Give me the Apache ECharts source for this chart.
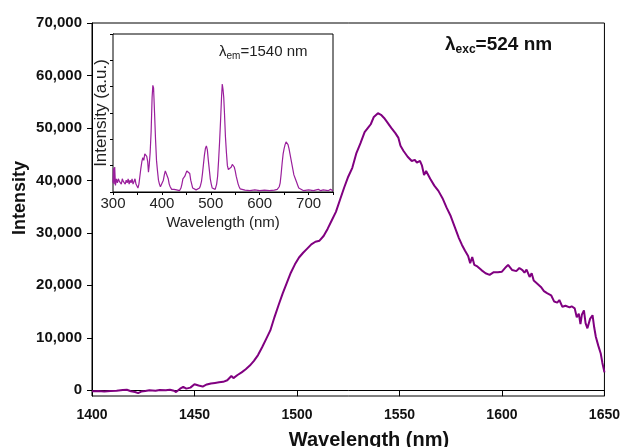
<!DOCTYPE html>
<html>
<head>
<meta charset="utf-8">
<script src="https://cdn.jsdelivr.net/npm/echarts@6.0.0/dist/echarts.min.js"></script>
<style>
  html, body { margin: 0; padding: 0; background: #fff; }
  #chart { width: 623px; height: 447px; }
</style>
</head>
<body>
<div id="chart"></div>
<script>
// emission spectrum, excitation 524 nm
const mainX = [1400,1403,1406,1409,1412,1415,1417,1419,1421,1422.5,1424,1426,1428,1431,1433,1436,1438,1440,1441,1443,1444.5,1446,1448,1450,1452,1454,1456,1458,1460,1462,1464,1466,1468,1469,1471,1473,1475,1477,1479,1481,1483,1485,1487,1489,1491,1493,1495,1497,1499,1501,1503,1505,1507,1509,1511,1513,1515,1517,1519,1521,1523,1525,1527,1529,1531,1533,1535,1536,1537.5,1539.5,1541,1542.5,1544,1546,1548,1549.5,1550.5,1552,1554,1556,1557.5,1558.5,1560,1561,1562,1563,1565,1567,1569,1571,1573,1575,1577,1579,1580.5,1582,1583.5,1584.5,1585.5,1586.5,1588,1590,1592,1594,1596,1598,1600,1602,1603,1605,1607,1608.5,1610,1611,1612,1613.5,1614.5,1615.5,1617,1619,1620.5,1622,1624,1625.5,1627,1628,1629.5,1631,1633,1634,1635.5,1636.5,1637.5,1638.3,1639,1640,1640.8,1641.7,1643,1644.2,1645,1645.8,1647,1648.2,1649,1649.8,1650];
const mainY = [-200,-150,-250,-150,-100,50,100,-200,-350,-550,-250,-150,0,-100,50,0,100,-100,-350,300,650,300,500,1150,900,700,1100,1300,1400,1500,1600,1900,2700,2300,2900,3400,4000,4700,5600,6700,8200,9800,11400,13900,16200,18400,20400,22400,24000,25300,26200,27000,27800,28300,28500,29400,30800,32400,34000,36300,38600,40700,42400,45200,47100,49200,50200,50700,52100,52800,52500,51900,51100,50000,49000,48100,46600,45600,44500,43700,43900,43400,43700,42800,41000,41800,40300,39000,38000,36600,34800,33200,31100,29000,27700,26600,25600,24200,25400,23900,23600,22900,22300,22000,22500,22500,22600,23500,23900,22900,22700,23300,22900,22400,23000,21600,22300,20900,20400,19700,18900,18500,18100,16900,16700,17200,15900,16100,15800,16000,15600,13900,14600,12600,14400,15200,12800,11800,13600,14300,12000,10200,8500,7000,5200,3800,3400];

// inset: excitation spectrum, emission 1540 nm (a.u.)
const insetX = [300,301,302,303.5,305,307,309,311,313,315,317,319,321,323,325,327,329,331,333,335,337,339,341,343,345,347,349,351,353,355,357,359,361,363,365,367,369,371,372.5,374,376,378,380,381.5,383,385,387,389,391,393,395,397,399,401,403,405,407,409,411,413,415,417,420,425,430,433,436,439,441,443,445,447,449,451,453,455,457,459,461,463,466,470,474,477,479,481,483,485,487,489,491,493,495,497,499,501,503,506,509,512,514,516,518,520,522,523.5,525,526.5,528,530,532,534,536,538,540,542,544,546,548,550,552,554,556,558,560,563,570,580,590,600,610,620,630,636,640,642,644,646,648,650,652,654,656,658,660,662,664,666,668,670,672,674,676,678,680,683,690,700,710,720,725,730,740,745,750];
const insetY = [0.35,0.9,0.3,0.95,0.25,0.5,0.35,0.5,0.4,0.45,0.3,0.5,0.4,0.45,0.3,0.45,0.35,0.5,0.3,0.45,0.35,0.5,0.3,0.4,0.5,0.3,0.35,0.15,0.3,0.6,0.9,1.15,1.3,1.2,1.45,1.5,1.35,1.15,0.75,1.0,1.5,2.3,3.6,4.05,3.95,3.0,2.0,1.2,0.8,0.45,0.3,0.2,0.2,0.25,0.45,0.65,0.8,0.85,0.75,0.5,0.3,0.2,0.1,0.1,0.08,0.1,0.05,0.15,0.3,0.5,0.55,0.6,0.7,0.8,0.85,0.85,0.7,0.45,0.3,0.15,0.1,0.08,0.1,0.15,0.25,0.4,0.7,1.05,1.4,1.65,1.75,1.6,1.2,0.85,0.5,0.3,0.15,0.1,0.1,0.3,0.6,1.2,1.9,2.7,3.6,4.1,3.9,3.6,3.0,2.1,1.5,1.0,0.85,0.8,0.8,0.95,1.05,1.05,0.95,0.8,0.6,0.45,0.3,0.2,0.12,0.05,0.07,0.05,0.08,0.05,0.07,0.05,0.07,0.1,0.2,0.35,0.7,1.1,1.45,1.65,1.8,1.9,1.9,1.8,1.65,1.45,1.25,1.05,0.85,0.65,0.55,0.5,0.35,0.25,0.15,0.1,0.05,0.08,0.05,0.1,0.05,0.08,0.05,0.1,0.05];

const mainTicks = [0, 10000, 20000, 30000, 40000, 50000, 60000, 70000];

const FONT = '"Liberation Sans", Arial, sans-serif';

const zip = (xs, ys) => xs.map((x, i) => [x, ys[i]]);

const chart = echarts.init(document.getElementById('chart'), null, { renderer: 'canvas' });

chart.setOption({
  backgroundColor: '#fff',
  animation: false,
  grid: [
    { left: 92, right: 16, top: 23, bottom: 51, show: true, borderColor: '#000', borderWidth: 1, backgroundColor: 'transparent' },
    { left: 113, right: 290, top: 34, bottom: 255, show: true, borderColor: '#000', borderWidth: 1, backgroundColor: '#fff', z: 5 }
  ],
  xAxis: [
    {
      gridIndex: 0, type: 'value', min: 1400, max: 1650, interval: 50,
      axisLine: { lineStyle: { color: '#000', width: 1 } },
      axisTick: { length: 6, lineStyle: { color: '#000' } },
      axisLabel: { color: '#111', fontFamily: FONT, fontSize: 14, fontWeight: 'bold', margin: 12, formatter: v => String(v) },
      splitLine: { show: false }
    },
    {
      gridIndex: 1, type: 'value', min: 300, max: 750, interval: 50,
      axisLine: { lineStyle: { color: '#000', width: 1 } },
      axisTick: { length: 3, lineStyle: { color: '#000' } },
      axisLabel: {
        color: '#222', fontFamily: FONT, fontSize: 15, margin: 4,
        formatter: v => (v % 100 === 0 && v < 750) ? String(v) : ''
      },
      splitLine: { show: false },
      name: 'Wavelength (nm)', nameLocation: 'middle', nameGap: 23,
      nameTextStyle: { color: '#222', fontFamily: FONT, fontSize: 15 }
    }
  ],
  yAxis: [
    {
      gridIndex: 0, type: 'value', min: -1100, max: 70000,
      axisLine: { show: true, lineStyle: { color: '#000', width: 1 } },
      axisTick: { show: true, length: 5, customValues: mainTicks, lineStyle: { color: '#000' } },
      axisLabel: {
        customValues: mainTicks, color: '#111', fontFamily: FONT, fontSize: 15, fontWeight: 'bold', margin: 10,
        formatter: v => Number(v).toLocaleString('en-US')
      },
      splitLine: { show: false }
    },
    {
      gridIndex: 1, type: 'value', min: 0, max: 6, interval: 1,
      axisLine: { show: true, lineStyle: { color: '#000', width: 1 } },
      axisTick: { show: true, length: 3, lineStyle: { color: '#000' } },
      axisLabel: { show: false },
      splitLine: { show: false },
      name: 'Intensity (a.u.)', nameLocation: 'middle', nameGap: 3,
      nameTextStyle: { color: '#222', fontFamily: FONT, fontSize: 17 }
    }
  ],
  series: [
    {
      type: 'line', xAxisIndex: 0, yAxisIndex: 0, data: zip(mainX, mainY),
      showSymbol: false, lineStyle: { color: '#800080', width: 2 }, z: 2
    },
    {
      type: 'line', xAxisIndex: 1, yAxisIndex: 1, data: zip(insetX, insetY),
      showSymbol: false, lineStyle: { color: '#9a1f9c', width: 1.2 }, z: 6
    }
  ],
  graphic: [
    {
      type: 'text', x: 369, y: 440, z: 10,
      style: { text: 'Wavelength (nm)', fill: '#111', font: 'bold 20px ' + FONT, textAlign: 'center', textVerticalAlign: 'middle' }
    },
    {
      type: 'text', x: 20, y: 198, rotation: Math.PI / 2, z: 10,
      style: { text: 'Intensity', fill: '#111', font: 'bold 18px ' + FONT, textAlign: 'center', textVerticalAlign: 'middle' }
    },
    {
      type: 'text', x: 445, y: 45, z: 10,
      style: {
        text: '{l|λ}{s|exc}{n|=524 nm}', textVerticalAlign: 'middle',
        rich: {
          l: { fontFamily: FONT, fontSize: 19, fontWeight: 'bold', lineHeight: 22, fill: '#111' },
          s: { fontFamily: FONT, fontSize: 12, fontWeight: 'bold', lineHeight: 12, verticalAlign: 'bottom', fill: '#111' },
          n: { fontFamily: FONT, fontSize: 19, fontWeight: 'bold', lineHeight: 22, fill: '#111' }
        }
      }
    },
    {
      type: 'text', x: 219, y: 52, z: 10,
      style: {
        text: '{l|λ}{s|em}{n|=1540 nm}', textVerticalAlign: 'middle',
        rich: {
          l: { fontFamily: FONT, fontSize: 15, lineHeight: 18, fill: '#222' },
          s: { fontFamily: FONT, fontSize: 10, lineHeight: 10, verticalAlign: 'bottom', fill: '#222' },
          n: { fontFamily: FONT, fontSize: 15, lineHeight: 18, fill: '#222' }
        }
      }
    }
  ]
});

window.addEventListener('resize', () => chart.resize());
</script>
</body>
</html>
